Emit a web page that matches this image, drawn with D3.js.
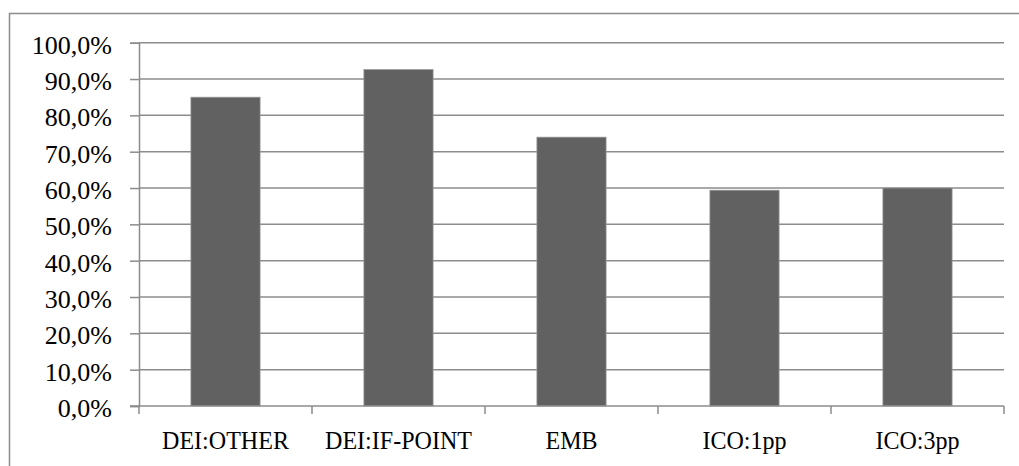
<!DOCTYPE html>
<html>
<head>
<meta charset="utf-8">
<script src="https://cdn.jsdelivr.net/npm/d3@7"></script>
<style>
  html, body { margin: 0; padding: 0; background: #fff; }
  svg { display: block; }
</style>
</head>
<body>
<svg id="chart" width="1019" height="466"></svg>
<script>
// Share of cases per method
const categories = ["DEI:OTHER", "DEI:IF-POINT", "EMB", "ICO:1pp", "ICO:3pp"];
const values = [0.850, 0.926, 0.740, 0.594, 0.600];
const yTicks = [0, 0.1, 0.2, 0.3, 0.4, 0.5, 0.6, 0.7, 0.8, 0.9, 1.0];

const FONT = "Liberation Serif";
const svg = d3.select("#chart");
const W = 1019, H = 466;

// outer chart frame
svg.append("rect")
  .attr("x", 9.5).attr("y", 13.5)
  .attr("width", W + 20).attr("height", H + 20)
  .attr("fill", "none").attr("stroke", "#8c8c8c").attr("stroke-width", 1.5);

const plot = { left: 139, right: 1004, top: 42.7, bottom: 406 };

const x = d3.scaleBand()
  .domain(categories)
  .range([plot.left, plot.right])
  .paddingInner(0.6).paddingOuter(0.3);

const xCat = d3.scaleBand().domain(categories).range([plot.left, plot.right]);

const y = d3.scaleLinear().domain([0, 1]).range([plot.bottom, plot.top]);

const fmt = v => (v * 100).toFixed(1).replace(".", ",") + "%";

// horizontal gridlines
svg.append("g").selectAll("line")
  .data(yTicks.filter(d => d > 0))
  .join("line")
  .attr("x1", plot.left).attr("x2", plot.right)
  .attr("y1", d => y(d)).attr("y2", d => y(d))
  .attr("stroke", "#8c8c8c").attr("stroke-width", 1.5);

// bars
svg.append("g").selectAll("rect")
  .data(values)
  .join("rect")
  .attr("x", (d, i) => x(categories[i]))
  .attr("width", x.bandwidth())
  .attr("y", d => y(d))
  .attr("height", d => y(0) - y(d))
  .attr("fill", "#616161")
  .attr("stroke", "#9a9a9a").attr("stroke-width", 0.75);

// y axis
const yAxis = d3.axisLeft(y).tickValues(yTicks).tickFormat(fmt).tickSize(9).tickPadding(18);
const gy = svg.append("g").attr("transform", `translate(${plot.left},0)`).call(yAxis)
  .attr("font-family", FONT).attr("font-size", 26);
gy.select(".domain").attr("stroke", "#8c8c8c").attr("stroke-width", 1.5);
gy.selectAll(".tick line").attr("stroke", "#8c8c8c").attr("stroke-width", 1.5);
gy.selectAll(".tick text").attr("fill", "#000").attr("dy", "0.4em");

// x axis baseline and category separators
svg.append("line")
  .attr("x1", plot.left - 9).attr("x2", plot.right)
  .attr("y1", plot.bottom).attr("y2", plot.bottom)
  .attr("stroke", "#8c8c8c").attr("stroke-width", 1.5);

const seps = categories.map(c => xCat(c)).concat([plot.right]);
svg.append("g").selectAll("line")
  .data(seps)
  .join("line")
  .attr("x1", d => d).attr("x2", d => d)
  .attr("y1", plot.bottom).attr("y2", plot.bottom + 8)
  .attr("stroke", "#8c8c8c").attr("stroke-width", 1.5);

svg.append("g").selectAll("text")
  .data(categories)
  .join("text")
  .attr("transform", d => `translate(${xCat(d) + xCat.bandwidth() / 2},449) scale(0.925,1)`)
  .attr("text-anchor", "middle")
  .attr("font-family", FONT)
  .attr("font-size", 26)
  .attr("fill", "#000")
  .text(d => d);
</script>
</body>
</html>
